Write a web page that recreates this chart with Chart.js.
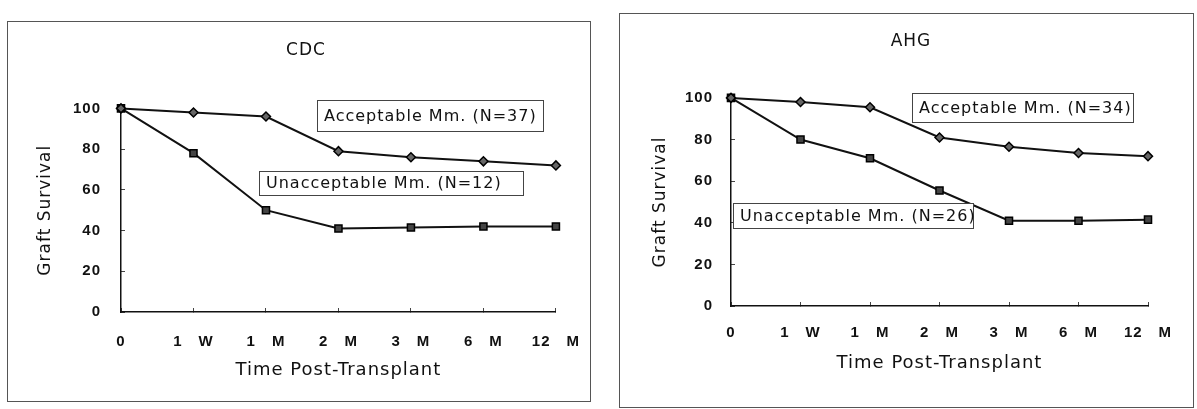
<!DOCTYPE html>
<html>
<head>
<meta charset="utf-8">
<script src="https://cdn.jsdelivr.net/npm/chart.js@4.4.1/dist/chart.umd.min.js"></script>
<style>
  html, body { margin: 0; padding: 0; background: #fff; overflow: hidden; }
  body { width: 1197px; height: 409px; position: relative; }
  .frame { position: absolute; border: 1px solid #555; box-sizing: border-box; }
  .wrap { position: absolute; }
</style>
</head>
<body>
<div class="frame" style="left:7px;top:21px;width:584px;height:381px"></div>
<div class="frame" style="left:619px;top:13px;width:575px;height:395px"></div>
<div class="wrap" style="left:7px;top:22px;width:598px;height:378px"><canvas id="cdc"></canvas></div>
<div class="wrap" style="left:619px;top:13px;width:584px;height:394px"><canvas id="ahg"></canvas></div>
<script>
const timeLabels = ["0", "1 W", "1 M", "2 M", "3 M", "6 M", "12 M"];
const survivalTicks = [0, 20, 40, 60, 80, 100];

const cdcAcceptable = [100, 98, 96, 79, 76, 74, 72];
const cdcUnacceptable = [100, 78, 50, 41, 41.5, 42, 42];
const ahgAcceptable = [100, 98, 95.5, 81, 76.5, 73.5, 72];
const ahgUnacceptable = [100, 80, 71, 55.5, 41, 41, 41.5];

// text boxes, placed in axis units (category index, survival %)
const cdcNotes = [
  { text: "Acceptable Mm. (N=37)", x0: 2.7, x1: 5.82, y0: 104, y1: 89 },
  { text: "Unacceptable Mm. (N=12)", x0: 1.91, x1: 5.55, y0: 69.3, y1: 57.4 },
];
const ahgNotes = [
  { text: "Acceptable Mm. (N=34)", x0: 2.6, x1: 5.78, y0: 102.5, y1: 88.6 },
  { text: "Unacceptable Mm. (N=26)", x0: 0.03, x1: 3.48, y0: 49.5, y1: 37.5 },
];

const ink = "#111";

const noteBoxes = {
  id: "noteBoxes",
  beforeLayout(chart) { chart.ctx.letterSpacing = "1px"; },
  beforeDraw(chart) { chart.ctx.letterSpacing = "1px"; },
  afterDatasetsDraw(chart, args, opts) {
    const { ctx, scales: { x, y } } = chart;
    ctx.save();
    ctx.font = '16px "DejaVu Sans"';
    ctx.textBaseline = "middle";
    opts.boxes.forEach((b) => {
      const l = Math.round(x.getPixelForValue(b.x0));
      const r = Math.round(x.getPixelForValue(b.x1));
      const t = Math.round(y.getPixelForValue(b.y0));
      const bt = Math.round(y.getPixelForValue(b.y1));
      ctx.fillStyle = "#fff";
      ctx.fillRect(l, t, r - l, bt - t);
      ctx.strokeStyle = "#444";
      ctx.lineWidth = 1;
      ctx.strokeRect(l + 0.5, t + 0.5, r - l, bt - t);
      ctx.fillStyle = ink;
      ctx.fillText(b.text, l + 7, (t + bt) / 2 + 1);
    });
    ctx.restore();
  },
};

function makeChart(id, title, acc, unacc, notes, lay) {
  return new Chart(document.getElementById(id), {
    type: "line",
    data: {
      labels: timeLabels,
      datasets: [
        {
          label: "Acceptable Mm.",
          data: acc,
          borderColor: ink,
          borderWidth: 2,
          pointStyle: "rectRot",
          pointRadius: 4.5,
          pointBackgroundColor: "#666",
          pointBorderColor: "#000",
          pointBorderWidth: 1.5,
          tension: 0,
          clip: false,
        },
        {
          label: "Unacceptable Mm.",
          data: unacc,
          borderColor: ink,
          borderWidth: 2,
          pointStyle: "rect",
          pointRadius: 5,
          pointBackgroundColor: "#444",
          pointBorderColor: "#000",
          pointBorderWidth: 1.5,
          tension: 0,
          clip: false,
        },
      ],
    },
    options: {
      responsive: true,
      maintainAspectRatio: false,
      animation: false,
      layout: { padding: 0 },
      plugins: {
        legend: { display: false },
        tooltip: { enabled: false },
        title: {
          display: true,
          text: title,
          color: ink,
          font: { family: "DejaVu Sans", size: 17, weight: "normal" },
          padding: { top: lay.titleTop, bottom: lay.titleBottom },
        },
        noteBoxes: { boxes: notes },
      },
      scales: {
        y: {
          min: 0,
          max: 100,
          afterBuildTicks: (s) => { s.ticks = survivalTicks.map((v) => ({ value: v })); },
          afterFit: (s) => { s.width = lay.yWidth; },
          border: { color: ink, width: 1.5 },
          grid: { drawOnChartArea: false, tickLength: -4, color: "#444" },
          ticks: {
            padding: lay.yPad,
            color: ink,
            font: { family: "Liberation Sans", size: 15, weight: "bold" },
          },
          title: {
            display: true,
            text: "Graft Survival",
            color: ink,
            font: { family: "DejaVu Sans", size: 17 },
            padding: { top: lay.yTitlePad, bottom: 0 },
          },
        },
        x: {
          offset: false,
          afterFit: (s) => { s.height = lay.xHeight; },
          border: { color: ink, width: 1.5 },
          grid: { drawOnChartArea: false, tickLength: -4, color: "#444" },
          ticks: {
            autoSkip: false,
            maxRotation: 0,
            padding: lay.xPad,
            color: ink,
            font: { family: "Liberation Sans", size: 15, weight: "bold" },
            callback: (v, i) => timeLabels[i].replace(" ", "\u2003"),
          },
          title: {
            display: true,
            text: "Time Post-Transplant",
            color: ink,
            font: { family: "DejaVu Sans", size: 18 },
            padding: { top: 0, bottom: lay.xTitlePad },
          },
        },
        pad: {
          position: "right",
          display: true,
          ticks: { display: false },
          grid: { display: false },
          border: { display: false },
          afterFit: (s) => { s.width = lay.padWidth; },
        },
      },
    },
    plugins: [noteBoxes],
  });
}

makeChart("cdc", "CDC", cdcAcceptable, cdcUnacceptable, cdcNotes, {
  titleTop: 18, titleBottom: 48, yWidth: 114, padWidth: 47, xHeight: 88,
  yPad: 24, xPad: 25, yTitlePad: 28, xTitlePad: 19,
});
makeChart("ahg", "AHG", ahgAcceptable, ahgUnacceptable, ahgNotes, {
  titleTop: 18.5, titleBottom: 46, yWidth: 112, padWidth: 55, xHeight: 101,
  yPad: 22, xPad: 22, yTitlePad: 31, xTitlePad: 33,
});
</script>
</body>
</html>
